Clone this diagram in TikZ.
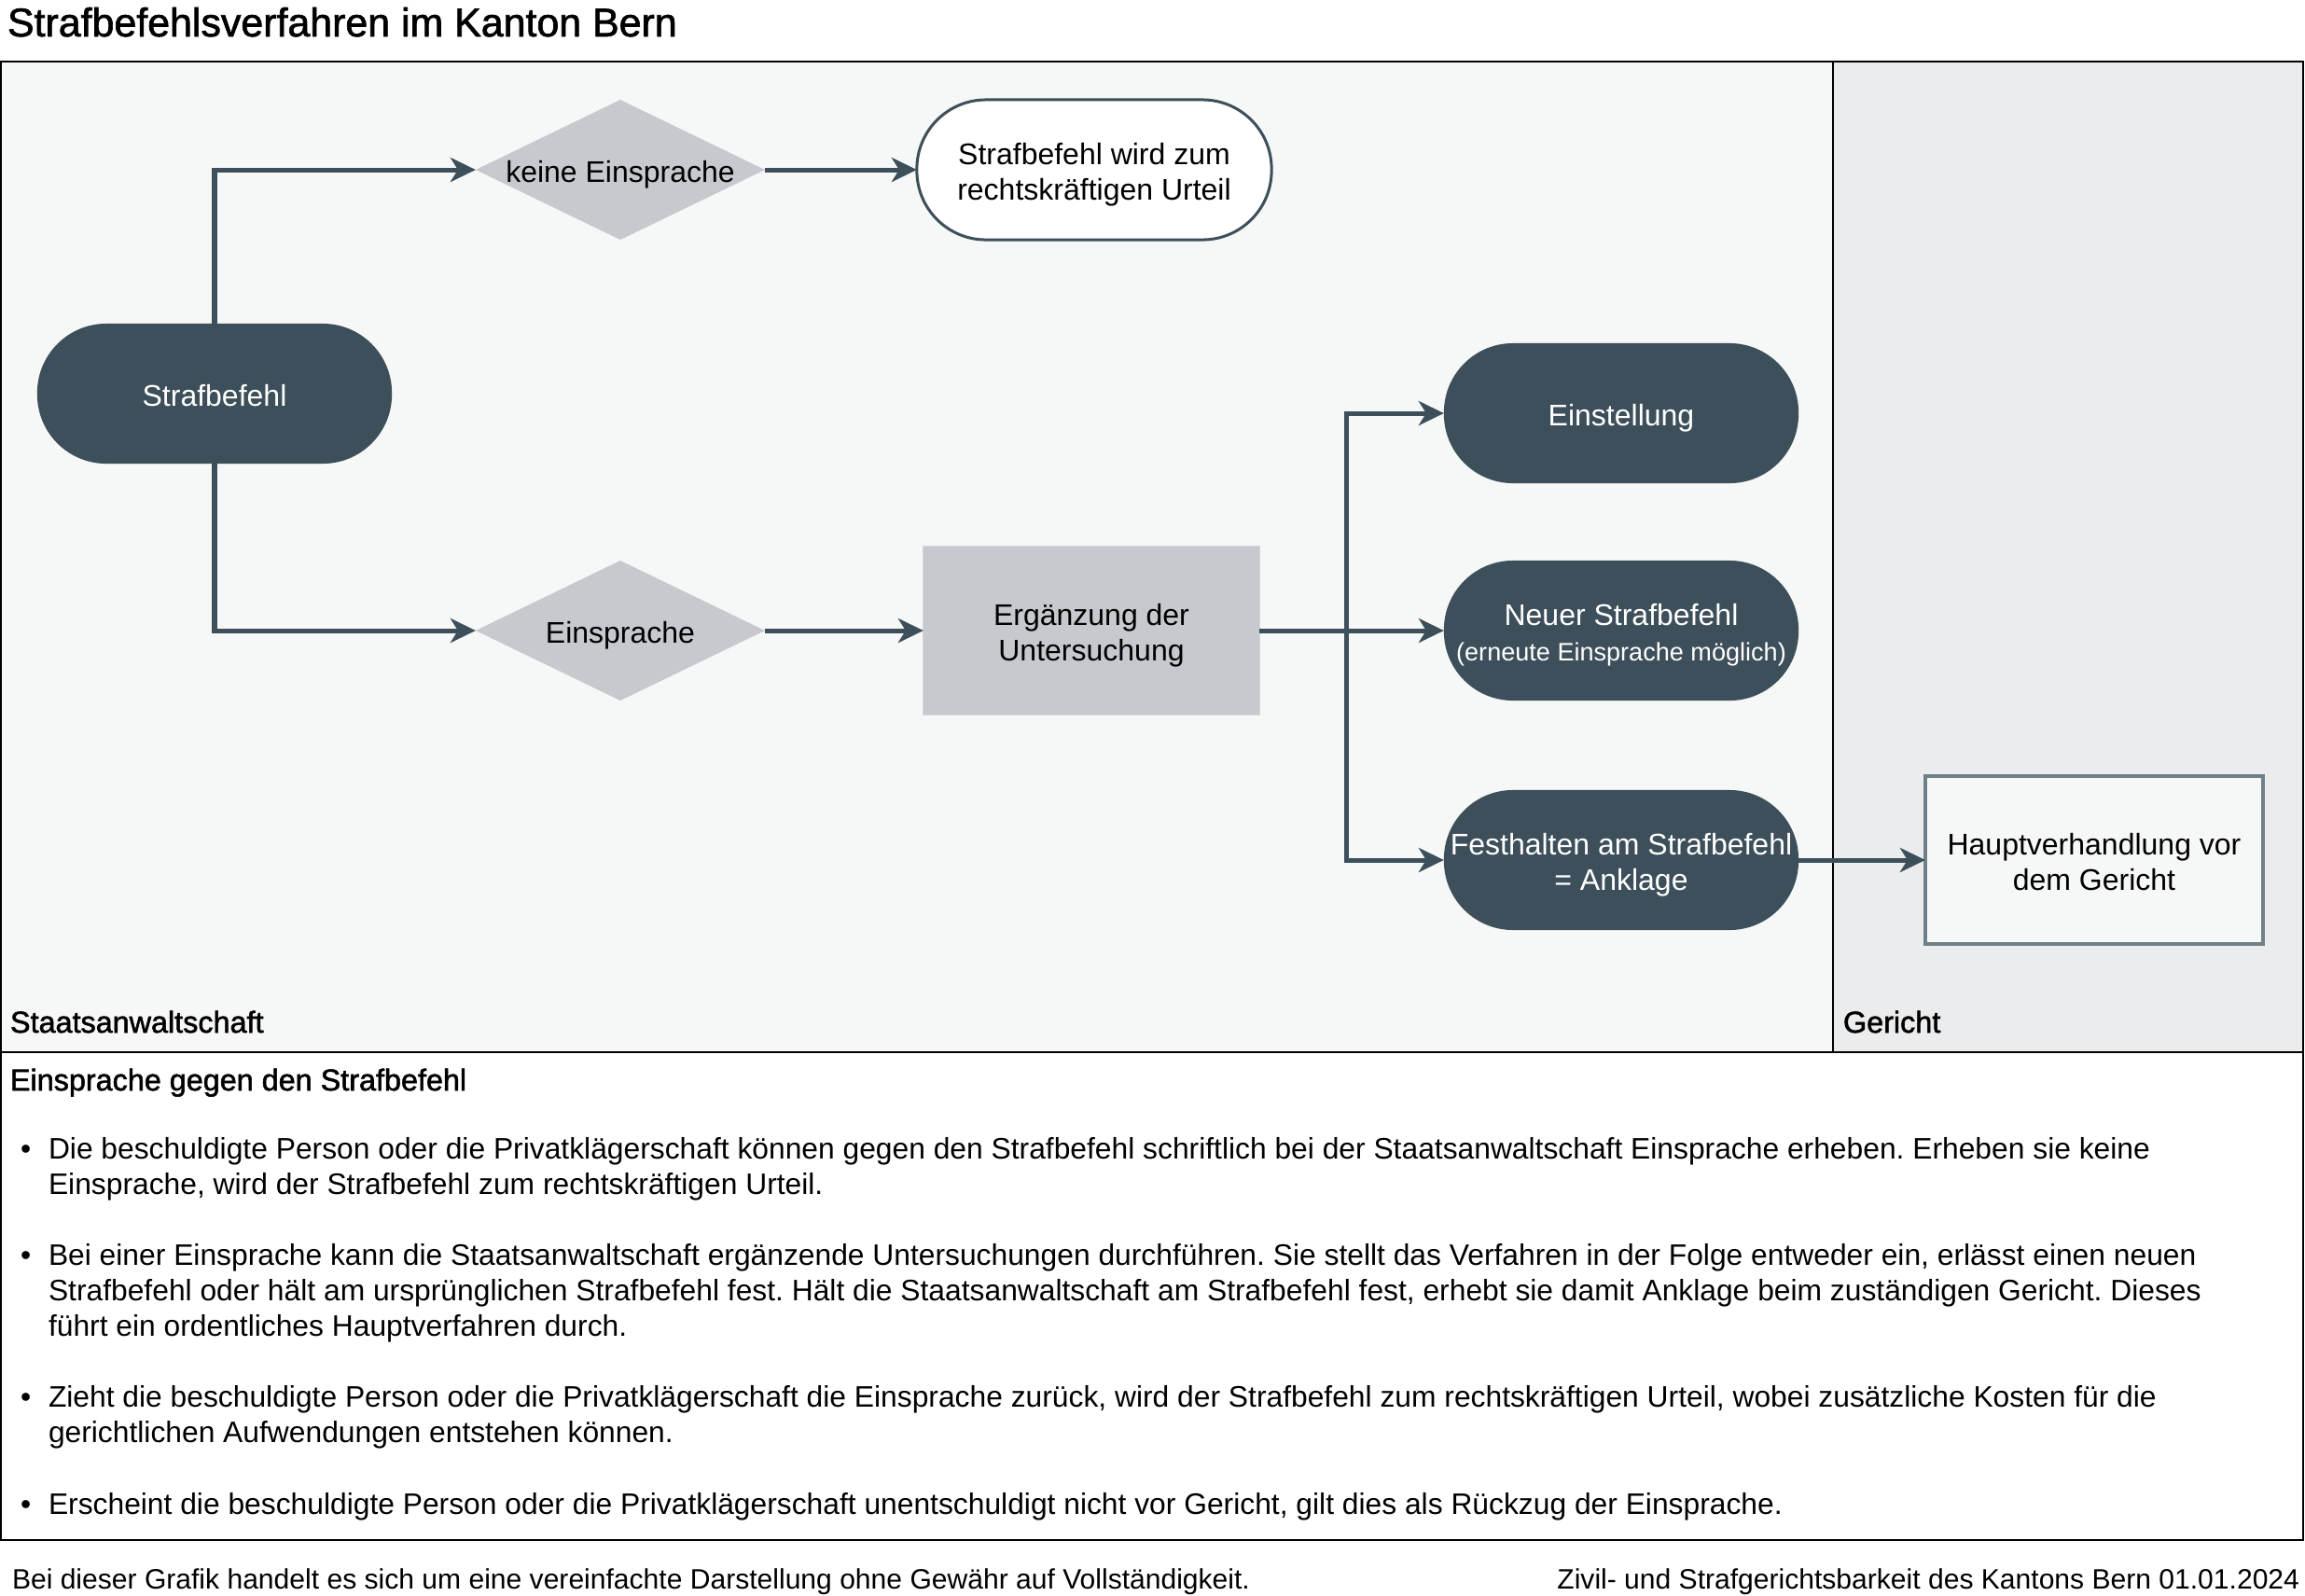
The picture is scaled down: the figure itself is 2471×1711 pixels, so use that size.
\documentclass[tikz,border=0pt]{standalone}
\usepackage{fontspec}
\setmainfont{Liberation Sans}
\newfontfamily\medfont[FakeBold=1.6]{Liberation Sans}
\usetikzlibrary{arrows.meta,positioning,shapes.geometric}
\frenchspacing

\definecolor{slate}{HTML}{3D4F5A}
\definecolor{stone}{HTML}{C6CACF}
\definecolor{stoneedge}{HTML}{D3D6D9}
\definecolor{lanea}{HTML}{F6F8F7}
\definecolor{laneb}{HTML}{EBECEE}
\definecolor{frame}{HTML}{6F8088}

\newcommand{\titlesize}{\medfont\fontsize{12.2}{14}\selectfont}
\newcommand{\lanesize}{\medfont\fontsize{9.2}{10.8}\selectfont}
\newcommand{\boxsize}{\fontsize{9.1}{10.8}\selectfont}
\newcommand{\smallboxsize}{\fontsize{7.7}{9.2}\selectfont}
\newcommand{\bodysize}{\fontsize{9.04}{10.8}\selectfont}
\newcommand{\footsize}{\fontsize{8.55}{10.8}\selectfont}
% invisible struts so that the lines sit like in the original
\newcommand{\boxtext}[1]{\rule{0pt}{0.33cm}#1\rule[-0.07cm]{0pt}{0pt}}

\begin{document}
\begin{tikzpicture}[x=0.01cm,y=-0.01cm,
		outer sep=0,
		txt/.style={anchor=base west,inner sep=0,font=\bodysize},
		line/.style={draw=slate,line width=0.05cm},
		arrow/.style={line,-{Stealth[length=0.27cm,width=0.26cm,inset=0.08cm]}},
		term/.style={rectangle,rounded corners=0.74cm,minimum width=3.8cm,minimum height=1.5cm,align=center,inner sep=0,font=\boxsize},
		dark/.style={term,fill=slate,text=white},
		decision/.style={diamond,fill=stone,minimum width=3.1cm,minimum height=1.5cm,inner sep=0},
		every label/.style={font=\boxsize,inner sep=0}]
		\useasboundingbox (0,0) rectangle (2471,1711);
		% lanes
		\fill[white] (0,0) rectangle (2471,1711);
		\fill[lanea] (0,66) rectangle (1965,1128);
		\fill[laneb] (1965,66) rectangle (2470,1128);
		\draw[line width=0.012cm] (1965,66) -- (1965,1128);
		\draw[line width=0.02cm] (1,66) rectangle (2469,1651);
		\draw[line width=0.02cm] (1,1128) -- (2469,1128);
		\node [anchor=base west,inner sep=0,font=\titlesize] (title) at (8,39) {Strafbefehlsverfahren im Kanton Bern};
		\node [txt,font=\lanesize] (sta) at (11,1107) {Staatsanwaltschaft};
		\node [txt,font=\lanesize] (ger) at (1976,1107) {Gericht};
		% nodes
		\node [dark] (straf) at (230,422) {\boxtext{Strafbefehl}};
		\node [decision,label=center:{\boxtext{keine Einsprache}}] (kein) at (665,182) {};
		\node [term,draw=slate,line width=0.03cm,fill=white] (urteil) at (1173,182) {\boxtext{Strafbefehl wird zum\\rechtskräftigen Urteil}};
		\node [decision,label=center:{\boxtext{Einsprache}}] (einsp) at (665,676) {};
		\node [rectangle,fill=stone,draw=stoneedge,line width=0.01cm,minimum width=3.6cm,minimum height=1.8cm,align=center,font=\boxsize] (erg) at (1170,676) {\boxtext{Ergänzung der\\Untersuchung}};
		\node [dark] (einst) at (1738,443) {\boxtext{Einstellung}};
		\node [dark] (neu) at (1738,676) {\boxtext{Neuer Strafbefehl\\{\smallboxsize(erneute Einsprache möglich)}}};
		\node [dark] (fest) at (1738,922) {\boxtext{Festhalten am Strafbefehl\\= Anklage}};
		\node [rectangle,draw=frame,line width=0.045cm,fill=lanea,minimum width=3.62cm,minimum height=1.8cm,align=center,font=\boxsize] (haupt) at (2245,922) {\boxtext{Hauptverhandlung vor\\dem Gericht}};
		% connectors
		\draw [arrow] (straf.north) |- (kein.west);
		\draw [arrow] (kein.east) -- (urteil.west);
		\draw [arrow] (straf.south) |- (einsp.west);
		\draw [arrow] (einsp.east) -- (erg.west);
		\coordinate [right=0.93cm of erg.east] (split);
		\draw [line] (erg.east) -- (split);
		\draw [arrow] (split) |- (einst.west);
		\draw [arrow] (split) -- (neu.west);
		\draw [arrow] (split) |- (fest.west);
		\draw [arrow] (fest.east) -- (haupt.west);
		% text box
		\node [txt,font=\lanesize] (head) at (11,1169) {Einsprache gegen den Strafbefehl};
		\node [txt] (p1) at (22,1242) {•};
		\node [txt] (l1) at (52,1242) {Die beschuldigte Person oder die Privatklägerschaft können gegen den Strafbefehl schriftlich bei der Staatsanwaltschaft Einsprache erheben. Erheben sie keine};
		\node [txt] (l2) at (52,1280) {Einsprache, wird der Strafbefehl zum rechtskräftigen Urteil.};
		\node [txt] (p2) at (22,1356) {•};
		\node [txt] (l3) at (52,1356) {Bei einer Einsprache kann die Staatsanwaltschaft ergänzende Untersuchungen durchführen. Sie stellt das Verfahren in der Folge entweder ein, erlässt einen neuen};
		\node [txt] (l4) at (52,1394) {Strafbefehl oder hält am ursprünglichen Strafbefehl fest. Hält die Staatsanwaltschaft am Strafbefehl fest, erhebt sie damit Anklage beim zuständigen Gericht. Dieses};
		\node [txt] (l5) at (52,1432) {führt ein ordentliches Hauptverfahren durch.};
		\node [txt] (p3) at (22,1508) {•};
		\node [txt] (l6) at (52,1508) {Zieht die beschuldigte Person oder die Privatklägerschaft die Einsprache zurück, wird der Strafbefehl zum rechtskräftigen Urteil, wobei zusätzliche Kosten für die};
		\node [txt] (l7) at (52,1546) {gerichtlichen Aufwendungen entstehen können.};
		\node [txt] (p4) at (22,1623) {•};
		\node [txt] (l8) at (52,1623) {Erscheint die beschuldigte Person oder die Privatklägerschaft unentschuldigt nicht vor Gericht, gilt dies als Rückzug der Einsprache.};
		% footer
		\node [txt,font=\footsize] (fl) at (13,1703) {Bei dieser Grafik handelt es sich um eine vereinfachte Darstellung ohne Gewähr auf Vollständigkeit.};
		\node [txt,font=\footsize,anchor=base east] (fr) at (2465,1703) {Zivil- und Strafgerichtsbarkeit des Kantons Bern 01.01.2024};
\end{tikzpicture}
\end{document}
